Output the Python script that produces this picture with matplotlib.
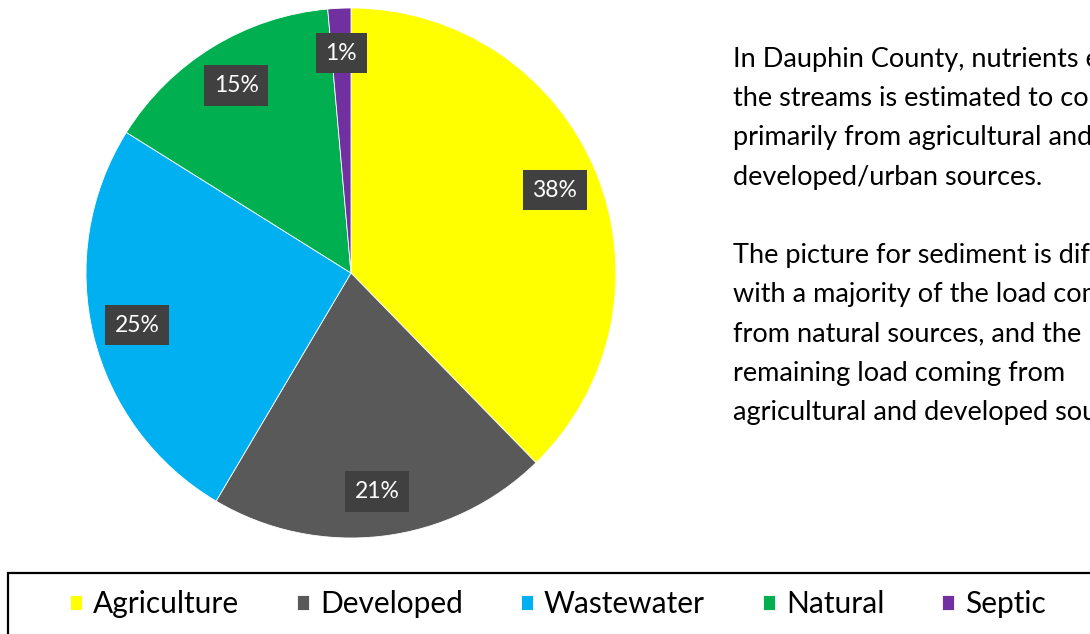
import matplotlib.pyplot as plt
from matplotlib.patches import Rectangle

sources = ['Agriculture', 'Developed', 'Wastewater', 'Natural', 'Septic']
shares = [37.7, 20.8, 25.4, 14.7, 1.4]
colors = ['#FFFF00', '#595959', '#00B0F0', '#00B050', '#7030A0']

para1 = ("In Dauphin County, nutrients entering\n"
         "the streams is estimated to come\n"
         "primarily from agricultural and\n"
         "developed/urban sources.")
para2 = ("The picture for sediment is different,\n"
         "with a majority of the load coming\n"
         "from natural sources, and the\n"
         "remaining load coming from\n"
         "agricultural and developed sources.")

plt.rcParams['font.family'] = ['Lato', 'DejaVu Sans']

fig = plt.figure(figsize=(10.9, 6.34), dpi=100)
ax = fig.add_axes([86 / 1090, 96 / 634, 530 / 1090, 530 / 634])

wedges, texts, autotexts = ax.pie(
    shares, colors=colors, startangle=90, counterclock=False,
    autopct='%.0f%%', pctdistance=0.83,
    wedgeprops=dict(edgecolor='white', linewidth=0.6),
    textprops=dict(color='white', fontsize=16.5))
for t in autotexts:
    t.set_bbox(dict(facecolor='#404040', edgecolor='none', pad=7))
ax.set_xlim(-1, 1)
ax.set_ylim(-1, 1)
ax.set_aspect('equal')

fig.text(733 / 1090, 1 - 47 / 634, para1 + '\n\n' + para2, fontsize=19.5,
         va='top', ha='left', linespacing=1.71, color='black')

# legend frame runs past the right and bottom edges
fig.patches.append(Rectangle((8 / 1090, -0.1), 1.2, (634 - 573) / 634 + 0.1,
                             transform=fig.transFigure, fill=False,
                             edgecolor='black', linewidth=1.6))
fig.legend(wedges, sources, loc='center left', bbox_to_anchor=(70 / 1090, 1 - 604 / 634),
           ncol=5, frameon=False, fontsize=21.5, handlelength=0.4, handleheight=0.4,
           handletextpad=0.37, columnspacing=1.94, borderpad=0, borderaxespad=0)

fig.savefig('out.png', dpi=100)
